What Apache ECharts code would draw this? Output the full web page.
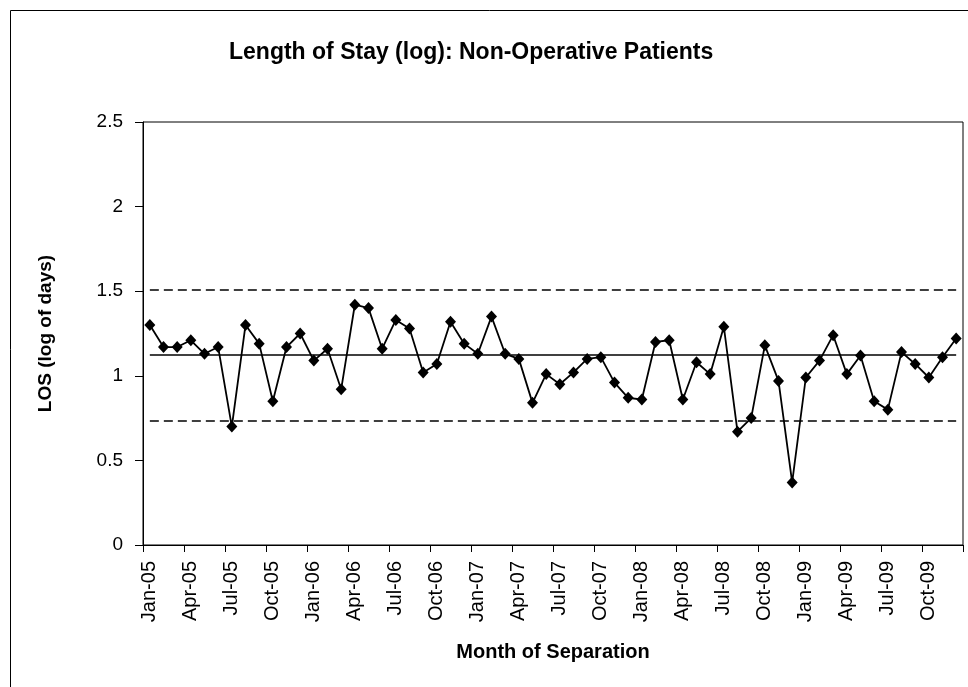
<!DOCTYPE html>
<html>
<head>
<meta charset="utf-8">
<script src="https://cdn.jsdelivr.net/npm/echarts@6/dist/echarts.min.js"></script>
<style>
    html, body { margin: 0; padding: 0; background: #fff; }
    #chart-box { width: 968px; height: 687px; }
</style>
</head>
<body>
<div id="chart-box"></div>
<script>
    // months Jan-05 .. Dec-09
    const monthNames = ['Jan', 'Feb', 'Mar', 'Apr', 'May', 'Jun', 'Jul', 'Aug', 'Sep', 'Oct', 'Nov', 'Dec']
    const years = ['05', '06', '07', '08', '09']
    const months = []
    years.forEach(y => monthNames.forEach(m => months.push(m + '-' + y)))

    // LOS (log of days), one value per month
    const losValues = [
        1.30, 1.17, 1.17, 1.21, 1.13, 1.17, 0.70, 1.30, 1.19, 0.85, 1.17, 1.25,
        1.09, 1.16, 0.92, 1.42, 1.40, 1.16, 1.33, 1.28, 1.02, 1.07, 1.32, 1.19,
        1.13, 1.35, 1.13, 1.10, 0.84, 1.01, 0.95, 1.02, 1.10, 1.11, 0.96, 0.87,
        0.86, 1.20, 1.21, 0.86, 1.08, 1.01, 1.29, 0.67, 0.75, 1.18, 0.97, 0.37,
        0.99, 1.09, 1.24, 1.01, 1.12, 0.85, 0.80, 1.14, 1.07, 0.99, 1.11, 1.22
    ]

    // control lines
    const centreLine = 1.123
    const upperLimit = 1.511
    const lowerLimit = 0.735

    const fontFam = '"Liberation Sans", Arial, sans-serif'

    let mychart = echarts.init(document.getElementById('chart-box'))

    // horizontal control line from first to last month
    function hLine(v, type) {
        return [
            { coord: [months[0], v], lineStyle: { type: type, color: '#000', width: 1.5 } },
            { coord: [months[months.length - 1], v] }
        ]
    }

    let option = {
        backgroundColor: '#fff',
        animation: false,
        title: {
            text: 'Length of Stay (log): Non-Operative Patients',
            left: 224,
            top: 36,
            textStyle: { fontFamily: fontFam, fontSize: 23, fontWeight: 'bold', color: '#000' }
        },
        graphic: [{
            type: 'rect',
            shape: { x: 10.5, y: 10.5, width: 1000, height: 1000 },
            style: { fill: 'none', stroke: '#000', lineWidth: 1 },
            silent: true
        }],
        grid: {
            left: 143,
            top: 122,
            right: 5,
            bottom: 142,
            show: true,
            borderColor: '#000',
            borderWidth: 1,
            containLabel: false
        },
        xAxis: {
            type: 'category',
            data: months,
            boundaryGap: true,
            name: 'Month of Separation',
            nameLocation: 'middle',
            nameGap: 97,
            nameTextStyle: { fontFamily: fontFam, fontSize: 20, fontWeight: 'bold', color: '#000' },
            axisLine: { lineStyle: { color: '#000', width: 1 } },
            axisTick: { show: true, interval: 2, length: 7, lineStyle: { color: '#000' } },
            axisLabel: {
                interval: 2,
                rotate: 90,
                margin: 16,
                fontFamily: fontFam,
                fontSize: 20,
                color: '#000'
            },
            splitLine: { show: false }
        },
        yAxis: {
            type: 'value',
            min: 0,
            max: 2.5,
            interval: 0.5,
            name: 'LOS (log of days)',
            nameLocation: 'middle',
            nameGap: 88,
            nameTextStyle: { fontFamily: fontFam, fontSize: 19, fontWeight: 'bold', color: '#000' },
            axisLine: { show: true, lineStyle: { color: '#000', width: 1 } },
            axisTick: { show: true, length: 8, lineStyle: { color: '#000' } },
            axisLabel: { margin: 20, fontFamily: fontFam, fontSize: 19, color: '#000' },
            splitLine: { show: false }
        },
        series: [
            {
                name: 'LOS',
                type: 'line',
                data: losValues,
                symbol: 'diamond',
                symbolSize: [11, 12],
                showAllSymbol: true,
                itemStyle: { color: '#000' },
                lineStyle: { color: '#000', width: 1.8 },
                markLine: {
                    silent: true,
                    symbol: 'none',
                    label: { show: false },
                    data: [
                        hLine(centreLine, 'solid'),
                        hLine(upperLimit, [9, 5]),
                        hLine(lowerLimit, [9, 5])
                    ]
                }
            }
        ]
    }

    mychart.setOption(option)
</script>
</body>
</html>
